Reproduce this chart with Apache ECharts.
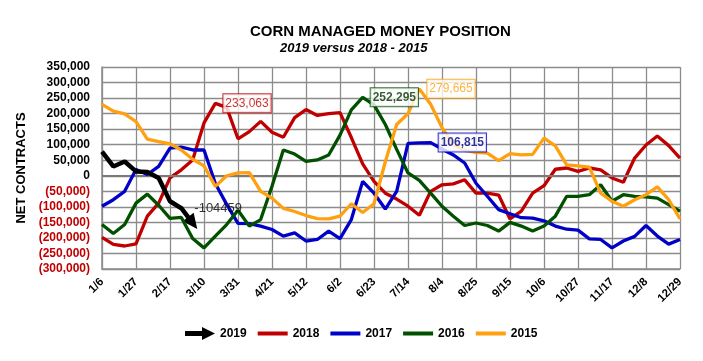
<!DOCTYPE html>
<html>
<head>
<meta charset="utf-8">
<script src="https://cdn.jsdelivr.net/npm/echarts@6/dist/echarts.min.js"></script>
<style>html,body{margin:0;padding:0;background:#fff;}#c{width:703px;height:361px;}</style>
</head>
<body>
<div id="c"></div>
<script>
const categories = ['1/6','1/13','1/20','1/27','2/3','2/10','2/17','2/24','3/3','3/10','3/17','3/24','3/31','4/7','4/14','4/21','4/28','5/5','5/12','5/19','5/26','6/2','6/9','6/16','6/23','6/30','7/7','7/14','7/21','7/28','8/4','8/11','8/18','8/25','9/1','9/8','9/15','9/22','9/29','10/6','10/13','10/20','10/27','11/3','11/10','11/17','11/24','12/1','12/8','12/15','12/22','12/29'];

const s2019 = [78000, 30000, 46000, 14000, 12000, -7000, -82000, -104459, -152000];
const s2018 = [-198000,-221000,-226000,-219000,-130000,-88000,-7000,19000,51000,170000,233063,220000,119000,142000,175000,140000,124000,187000,213000,194000,200000,203000,123000,38000,-18000,-56000,-75000,-98000,-127000,-50000,-29000,-26000,-13000,-56000,-56000,-62000,-139000,-114000,-56000,-32000,21000,25000,14000,25000,19000,-7000,-21000,57000,99000,128000,97000,57000];
const s2017 = [-98000,-77000,-50000,20000,4000,30000,89000,92000,83000,83000,-25000,-92000,-153000,-154000,-162000,-173000,-194000,-184000,-210000,-205000,-178000,-202000,-141000,-18000,-56000,-107000,-50000,104000,106000,106815,86000,67000,41000,-24000,-66000,-109000,-122000,-135000,-136000,-145000,-162000,-172000,-175000,-203000,-205000,-232000,-210000,-195000,-160000,-194000,-220000,-205000];
const s2016 = [-157000,-186000,-157000,-88000,-59000,-95000,-137000,-134000,-202000,-232000,-194000,-157000,-111000,-162000,-141000,-34000,83000,70000,46000,51000,67000,131000,212000,252295,228000,165000,85000,9000,-15000,-56000,-98000,-130000,-160000,-152000,-160000,-178000,-150000,-162000,-178000,-162000,-130000,-66000,-66000,-61000,-29000,-82000,-61000,-66000,-68000,-72000,-93000,-114000];
const s2015 = [230000,208000,199000,174000,118000,110000,103000,83000,53000,32000,-34000,0,9000,10000,-50000,-72000,-105000,-115000,-128000,-138000,-139000,-130000,-90000,-118000,-90000,45000,165000,200000,279665,230000,155000,100000,82000,75000,73000,49000,71000,67000,69000,121000,96000,35000,32000,28000,-56000,-82000,-98000,-77000,-61000,-36000,-77000,-139000];

const lastLabelIndex2019 = 7;
const yMin = -300000, yMax = 350000, yStep = 50000;
const seriesNames = ['2019','2018','2017','2016','2015'];
const seriesData = {'2019': s2019, '2018': s2018, '2017': s2017, '2016': s2016, '2015': s2015};
const colors = {'2019':'#000000','2018':'#C00000','2017':'#0000C8','2016':'#005000','2015':'#FFA010'};
const labelColors = {'2018':'#C00000','2017':'#000080','2016':'#003300','2015':'#FFA010'};
const labelBold = {'2018':false,'2017':true,'2016':true,'2015':false};

const FONT = 'Liberation Sans';
function fmt(v){ return Math.abs(v).toLocaleString('en-US'); }
function peakIndex(arr){ let m = 0; arr.forEach((v,i)=>{ if(v>arr[m]) m=i; }); return m; }

const lineIcon = 'path://M0,0L30,0L30,4L0,4Z';
const arrowIcon = 'path://M0,4L17,4L17,0L30,6.5L17,13L17,9L0,9Z';

const lineSeries = seriesNames.map((n, k) => ({
  name: n, type: 'line', data: seriesData[n], symbol: 'none', z: n==='2019' ? 12 : 3 + k,
  lineStyle: {color: colors[n], width: n==='2019' ? 4.5 : 3.3}, itemStyle: {color: colors[n]},
  emphasis: {disabled: true}
}));

// zero line
lineSeries[4].markLine = {silent:true, symbol:'none', label:{show:false},
  lineStyle:{color:'#7a7a7a', width:2, type:'solid'}, data:[{yAxis:0}]};

// peak value boxes (drawn above all lines)
const peakSeries = ['2018','2017','2016','2015'].map(n => {
  const p = peakIndex(seriesData[n]);
  return {
    name: 'peak' + n, type: 'scatter', z: 20, symbolSize: 0, silent: true,
    data: [[p, seriesData[n][p]]],
    label: {show:true, position:'right', distance:8, formatter: p2 => fmt(p2.value[1]),
      color: labelColors[n], fontFamily: FONT, fontSize: 12, fontWeight: labelBold[n]?'bold':'normal',
      backgroundColor:'#fff', borderColor: colors[n], borderWidth:1, padding:[3,2]}
  };
});

// 2019 last value label
const label2019 = {
  name: 'last2019', type: 'scatter', z: 20, symbolSize: 0, silent: true,
  data: [[lastLabelIndex2019, s2019[lastLabelIndex2019]]],
  label: {show:true, position:'right', distance:13, formatter: p => String(p.value[1]),
    color:'#000', fontFamily: FONT, fontSize: 13}
};

const option = {
  animation: false,
  backgroundColor: '#fff',
  graphic: [
    {type:'text', left: 250, top: 24, style:{text:'CORN MANAGED MONEY POSITION', font:'bold 15px "Liberation Sans"', fill:'#000'}},
    {type:'text', left: 280, top: 42, style:{text:'2019 versus 2018 - 2015', font:'italic bold 13px "Liberation Sans"', fill:'#000'}}
  ],
  legend: {
    left: 180, top: 322, itemWidth: 30, itemHeight: 13, itemGap: 11,
    textStyle: {fontFamily: FONT, fontWeight:'bold', fontSize: 12, color:'#000'},
    data: seriesNames.map(n=>({name:n, icon: n==='2019'?arrowIcon:lineIcon}))
  },
  grid: {left: 102, right: 23, top: 67, bottom: 92},
  xAxis: {
    type:'category', data: categories, boundaryGap: false,
    axisLine:{onZero:false, lineStyle:{color:'#8c8c8c', width:1.5}},
    axisTick:{show:false},
    axisLabel:{interval:2, rotate:45, fontFamily: FONT, fontWeight:'bold', fontSize:11.5, color:'#000', margin:11},
    splitLine:{show:true, interval:2, lineStyle:{color:'#8c8c8c', width:1.3}}
  },
  yAxis: {
    type:'value', min: yMin, max: yMax, interval: yStep,
    name:'NET CONTRACTS', nameLocation:'middle', nameRotate:90, nameGap:72,
    nameTextStyle:{fontFamily: FONT, fontWeight:'bold', fontSize:13, color:'#000'},
    axisLine:{show:true, lineStyle:{color:'#8c8c8c', width:1.5}},
    axisTick:{show:false},
    axisLabel:{formatter: v=> v<0 ? '('+fmt(v)+')' : fmt(v), color: v=> v<0 ? '#C00000' : '#000',
      fontFamily: FONT, fontWeight:'bold', fontSize:12, margin:12},
    splitLine:{show:true, lineStyle:{color:'#8c8c8c', width:1.3}}
  },
  series: lineSeries.concat(peakSeries, [label2019])
};
const chart = echarts.init(document.getElementById('c'), null, {renderer:'canvas'});
chart.setOption(option);

// arrow head at the end of 2019 line, oriented along the last segment
const nLast = s2019.length - 1;
const pA = chart.convertToPixel({xAxisIndex:0, yAxisIndex:0}, [nLast-1, s2019[nLast-1]]);
const pB = chart.convertToPixel({xAxisIndex:0, yAxisIndex:0}, [nLast, s2019[nLast]]);
const ang = Math.atan2(pB[1]-pA[1], pB[0]-pA[0]) * 180 / Math.PI;
chart.setOption({series: [{name:'2019', markPoint: {silent:true,
  symbol:'path://M0,0L12,6L0,12Z', symbolSize:[15,14], symbolRotate: -ang,
  itemStyle:{color:'#000'}, label:{show:false},
  data:[{coord:[nLast, s2019[nLast]]}]}}]});
</script>
</body>
</html>
